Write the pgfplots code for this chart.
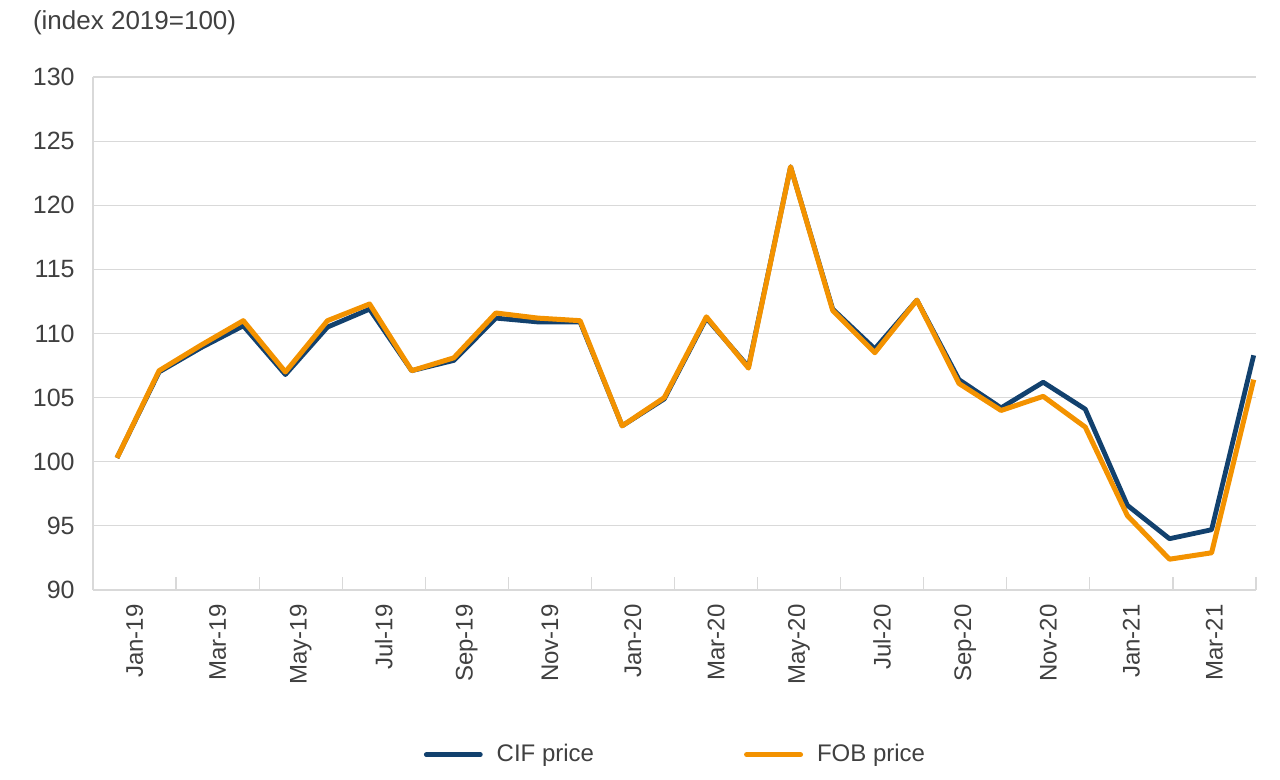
\documentclass[border=0pt]{standalone}
\usepackage{fontspec}
\setmainfont{Liberation Sans}
\usepackage{pgfplots}
\pgfplotsset{compat=1.18}
\definecolor{cifblue}{HTML}{12416E}
\definecolor{foborange}{HTML}{F39200}
\definecolor{gridgray}{HTML}{D9D9D9}
\definecolor{txt}{HTML}{404040}

% month index 0 = Jan-19 ... 27 = Apr-21
\pgfplotstableread{
m  cif    fob
0  100.3  100.3
1  107.0  107.1
2  108.9  109.1
3  110.6  111.0
4  106.8  107.0
5  110.5  111.0
6  111.9  112.3
7  107.1  107.1
8  107.9  108.1
9  111.2  111.6
10 110.9  111.2
11 110.9  111.0
12 102.8  102.8
13 104.9  105.0
14 111.2  111.3
15 107.4  107.3
16 123.0  123.0
17 111.9  111.8
18 108.8  108.5
19 112.6  112.6
20 106.4  106.1
21 104.2  104.0
22 106.2  105.1
23 104.1  102.7
24 96.6   95.8
25 94.0   92.4
26 94.7   92.9
27 108.3  106.4
}\prices

\begin{document}
\begin{tikzpicture}[font=\fontsize{12}{14}\selectfont]
\begin{axis}[
    scale only axis,
    width=581.5pt, height=256.5pt,
    xmin=-0.570, xmax=27.055,
    ymin=90, ymax=130,
    ytick={90,95,...,130},
    /pgf/number format/assume math mode=true,
    ymajorgrids,
    grid style={gridgray, line width=0.6pt},
    axis x line*=bottom, axis y line*=left,
    axis line style={gridgray, line width=0.6pt},
    tick align=inside,
    major tick length=6.5pt,
    xtick style={gridgray, line width=0.6pt},
    ytick style={draw=none},
    xtick={-0.570,1.403,3.376,5.350,7.323,9.296,11.269,13.242,15.216,17.189,19.162,21.135,23.109,25.082,27.055},
    xticklabels={},
    extra x ticks={0.417,2.390,4.363,6.336,8.309,10.282,12.256,14.229,16.202,18.175,20.149,22.122,24.095,26.068},
    extra x tick labels={Jan-19,Mar-19,May-19,Jul-19,Sep-19,Nov-19,Jan-20,Mar-20,May-20,Jul-20,Sep-20,Nov-20,Jan-21,Mar-21},
    extra x tick style={major tick length=0pt},
    xticklabel style={text=txt, inner sep=0pt, yshift=-7pt, rotate=90, anchor=east},
    yticklabel style={text=txt, inner sep=0pt, anchor=east, xshift=-9pt, font=\fontsize{12.5}{15}\selectfont},
    clip=false,
    legend columns=2,
    legend cell align=left,
    legend image code/.code={\draw[#1, line cap=round] (0pt,0pt) -- (27pt,0pt);},
    legend style={draw=none, fill=none, text=txt, at={(0.5,-0.321)}, anchor=center,
        nodes={inner sep=0pt},
        /tikz/every odd column/.append style={column sep=7pt},
        /tikz/every even column/.append style={column sep=75pt}},
]
\addplot[cifblue, line width=2.4pt, line join=round] table[x=m, y=cif] {\prices};
\addlegendentry{CIF price}
\addplot[foborange, line width=2.5pt, line join=round] table[x=m, y=fob] {\prices};
\addlegendentry{FOB price}
\end{axis}
\node[anchor=west, text=txt, font=\fontsize{13}{15}\selectfont] at (-33.5pt,283.5pt) {(index 2019=100)};
\pgfresetboundingbox
\useasboundingbox (-46.5pt,-95pt) rectangle (593.5pt,295pt);
\end{tikzpicture}
\end{document}
